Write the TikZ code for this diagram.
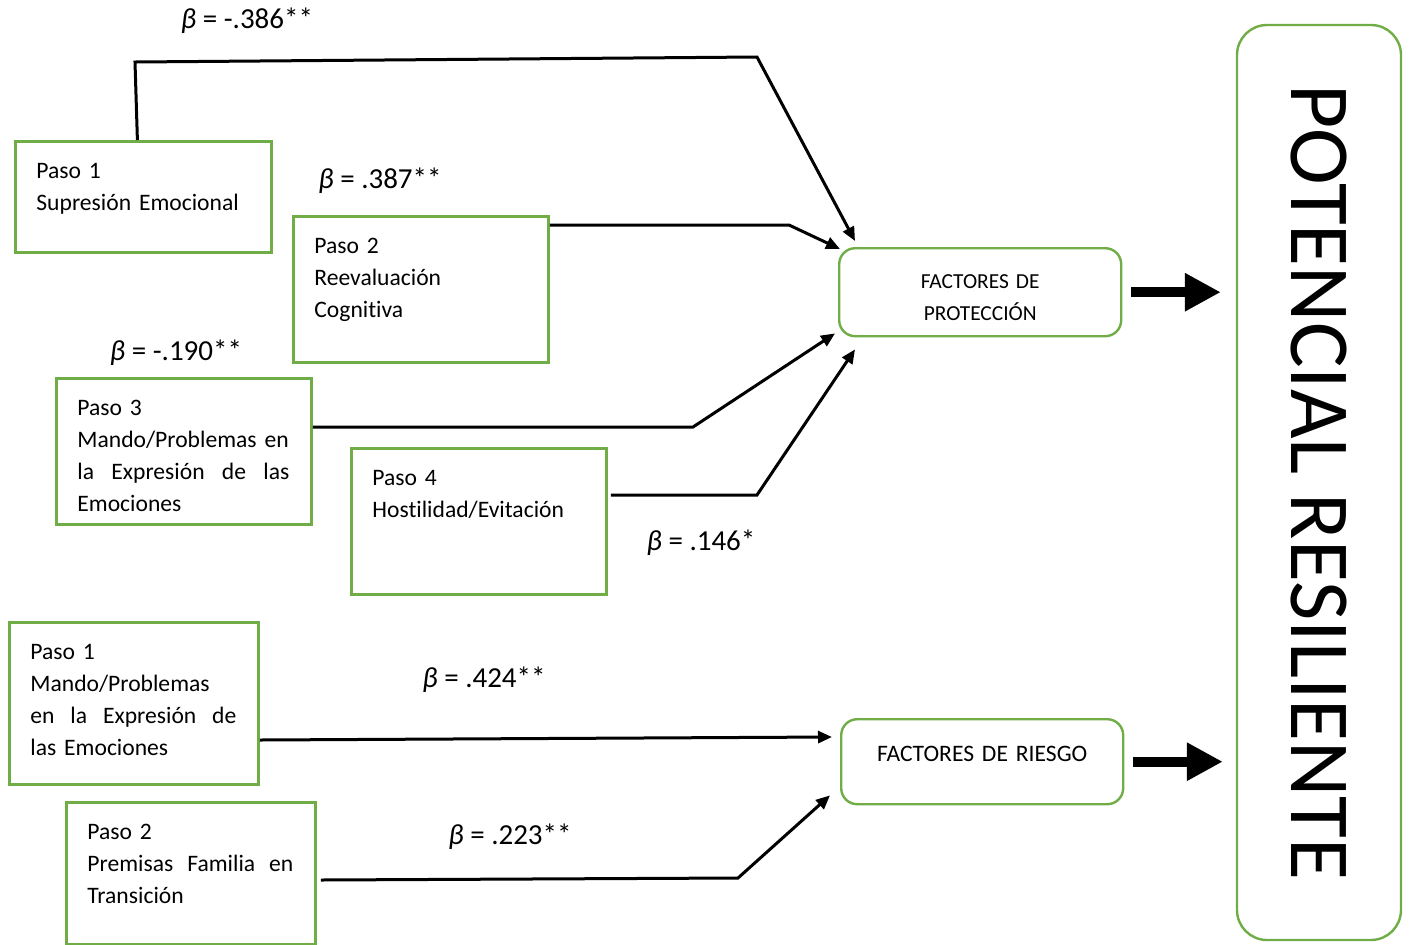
\documentclass[tikz,border=0pt]{standalone}
\usepackage{fontspec}
\setmainfont{Carlito}[Ligatures=NoCommon]
\usetikzlibrary{calc,arrows.meta}
\definecolor{PasoGreen}{HTML}{70AD47}
\newcommand{\coef}[1]{{\itshape β} = #1}
\newcommand{\fullline}[2]{\leavevmode\hbox to #1{#2}}

\begin{document}
\begin{tikzpicture}[
    x=0.5pt, y=-0.5pt,
    paso/.style={
      draw=PasoGreen,
      line width=1.4pt,
      anchor=north west,
      align=left,
      inner xsep=10.5pt,
      inner ysep=0pt,
      text height=18.5pt,
      font=\fontsize{11.8}{16}\selectfont
    },
    factor/.style={
      draw=PasoGreen,
      line width=1.2pt,
      rounded corners=8pt,
      anchor=north west,
      align=center,
      inner sep=0pt,
      text width=141pt
    },
    conn/.style={line width=1.5pt, -{Triangle[length=7pt,width=6pt]}},
    bigarrow/.style={line width=5pt, -{Triangle[length=18pt,width=18pt]}},
    coeflabel/.style={font=\fontsize{14.5}{16}\selectfont}
  ]
  \useasboundingbox (0,0) rectangle (1409,944);

  % pasos
  \node[paso, text width=107pt, text depth=37pt] (s1) at (14,140)
    {Paso 1\\Supresión Emocional};
  \node[paso, text width=106.5pt, text depth=54.5pt] (s2) at (292,215)
    {Paso 2\\Reevaluación\\Cognitiva};
  \node[paso, text width=106.5pt, text depth=54.5pt] (s3) at (55,377)
    {Paso 3\\\mbox{Mando/Problemas en}\\\fullline{106pt}{la\hfill Expresión\hfill de\hfill las}\\Emociones};
  \node[paso, text width=106.5pt, text depth=54.5pt] (s4) at (350,447)
    {Paso 4\\Hostilidad/Evitación};
  \node[paso, text width=103.5pt, text depth=62.5pt] (r1) at (8,621)
    {Paso 1\\Mando/Problemas\\\fullline{103pt}{en\hfill la\hfill Expresión\hfill de}\\las Emociones};
  \node[paso, text width=103.5pt, text depth=52.5pt] (r2) at (65,801)
    {Paso 2\\\fullline{103pt}{Premisas\hfill Familia\hfill en}\\Transición};

  % factores
  \node[factor, text height=20pt, text depth=24pt, font=\fontsize{10.7}{16}\selectfont] (fp) at (838,247)
    {FACTORES DE\\PROTECCIÓN};
  \node[factor, text height=21pt, text depth=21.5pt, font=\fontsize{11.8}{16}\selectfont] (fr) at (840,718)
    {FACTORES DE RIESGO};
  \node[draw=PasoGreen, line width=1.2pt, rounded corners=15pt, rotate=-90,
    minimum width=457.5pt, minimum height=82pt, inner sep=0pt,
    font=\fontsize{42.8}{43}\selectfont] (pr) at (1319,482.5) {POTENCIAL RESILIENTE};

  % coeficientes
  \node[coeflabel] (c1) at (247,21) {\coef{-.386**}};
  \node[coeflabel] (c2) at (380,181) {\coef{.387**}};
  \node[coeflabel] (c3) at (176,353) {\coef{-.190**}};
  \node[coeflabel] (c4) at (701,543) {\coef{.146*}};
  \node[coeflabel] (c5) at (484,680) {\coef{.424**}};
  \node[coeflabel] (c6) at (510,837) {\coef{.223**}};

  % conexiones
  \draw[conn] ([xshift=-3pt]s1.north) -- (135,62) -- (757,57) -- ([xshift=8.5pt,yshift=3pt]fp.north west);
  \draw[conn] ([yshift=-5pt]s2.north east) -- (789,225) -- ([xshift=1pt,yshift=-1pt]fp.north west);
  \draw[conn] ([yshift=-25pt]s3.north east) -- (693,427) -- ([xshift=-1.5pt,yshift=2pt]fp.south west);
  \draw[conn] ([xshift=1.5pt,yshift=-24pt]s4.north east) -- (757,495) -- ([xshift=8.5pt,yshift=-6pt]fp.south west);
  \draw[conn] ([yshift=-59.5pt]r1.north east) -- ([xshift=-4pt,yshift=-9.5pt]fr.north west);
  \draw[conn] ([xshift=2pt,yshift=-39.5pt]r2.north east) -- (738,878) -- ([xshift=-5pt,yshift=5pt]fr.south west);

  \draw[bigarrow] ([xshift=4.5pt]fp.east) -- ([xshift=-7.5pt]pr.south |- fp.east);
  \draw[bigarrow] ([xshift=4.5pt]fr.east) -- ([xshift=-6.5pt]pr.south |- fr.east);
\end{tikzpicture}
\end{document}
